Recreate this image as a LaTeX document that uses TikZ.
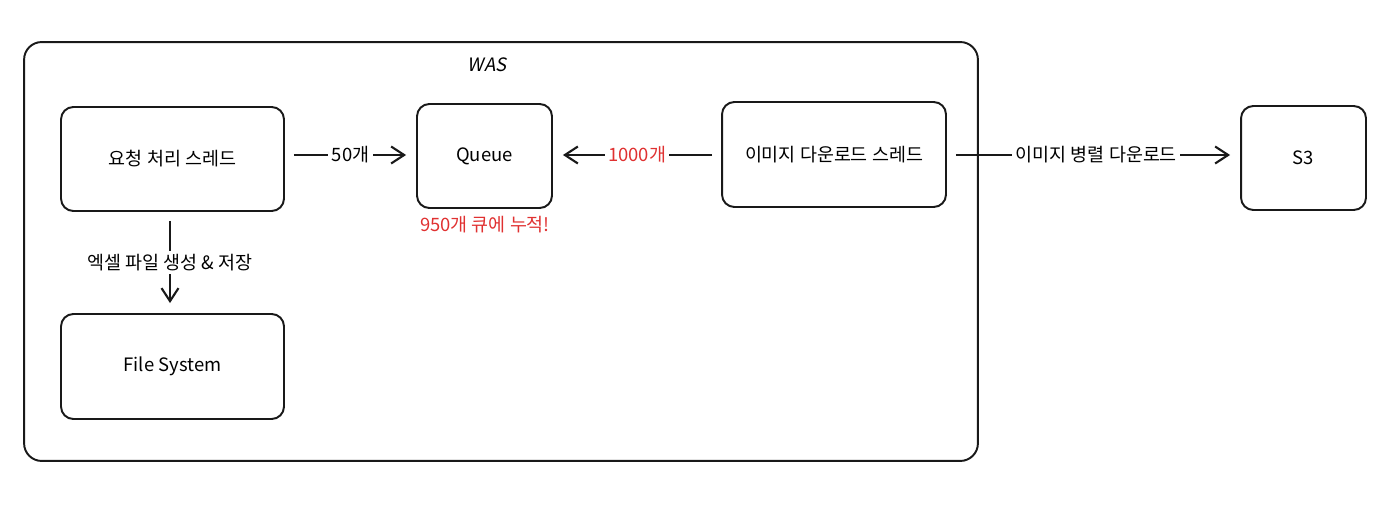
\documentclass[tikz,border=0pt]{standalone}
\usepackage{fontspec}
\setmainfont{Noto Sans CJK KR}
\newfontfamily\slantfont{Noto Sans CJK KR}[FakeSlant=0.2]
\usetikzlibrary{arrows.meta,positioning}
\definecolor{warnred}{HTML}{E03131}

\begin{document}
\begin{tikzpicture}[x=0.02cm,y=-0.02cm,font=\fontsize{10.5}{12}\selectfont,
 box/.style={draw=black!90,rounded corners=7pt,line width=1.1pt,align=center,inner sep=4pt},
 ar/.style={-{Straight Barb[length=2.6mm,width=3.4mm,line width=1.2pt]},line width=1.4pt,draw=black!90,
  shorten <=0.18cm,shorten >=0.2cm},
 lab/.style={font=\fontsize{10.5}{12}\selectfont,fill=white,inner sep=2pt}]
\useasboundingbox (0,0) rectangle (1388,506);
\node[draw=black!90,rounded corners=10pt,line width=1.1pt,minimum width=19.08cm,minimum height=8.38cm] (was) at (501,251.5) {};
\node[font=\slantfont\fontsize{10.5}{12}\selectfont] (waslab) at (487,65) {WAS};
\node[box,minimum width=4.46cm,minimum height=2.08cm] (req) at (172.5,159) {요청 처리 스레드};
\node[box,minimum width=2.7cm,minimum height=2.08cm] (queue) at (484.5,156) {Queue};
\node[box,minimum width=4.48cm,minimum height=2.1cm] (dl) at (834,154.5) {이미지 다운로드 스레드};
\node[box,minimum width=2.5cm,minimum height=2.08cm] (s3) at (1303.5,158) {S3};
\node[box,minimum width=4.46cm,minimum height=2.1cm] (fs) at (172.5,366.5) {File System};
\node[text=warnred] (pile) at (485,225) {950개 큐에 누적!};
\draw[ar] (req.east |- 0,155) -- node[lab] {50개} (queue.west |- 0,155);
\draw[ar] (dl.west |- 0,155) -- node[lab,text=warnred] {1000개} (queue.east |- 0,155);
\draw[ar] (dl.east |- 0,155) -- node[lab,pos=0.51] {이미지 병렬 다운로드} (s3.west |- 0,155);
\draw[ar] (req.south -| 170,0) -- node[lab] {엑셀 파일 생성 \& 저장} (fs.north -| 170,0);
\end{tikzpicture}
\end{document}
